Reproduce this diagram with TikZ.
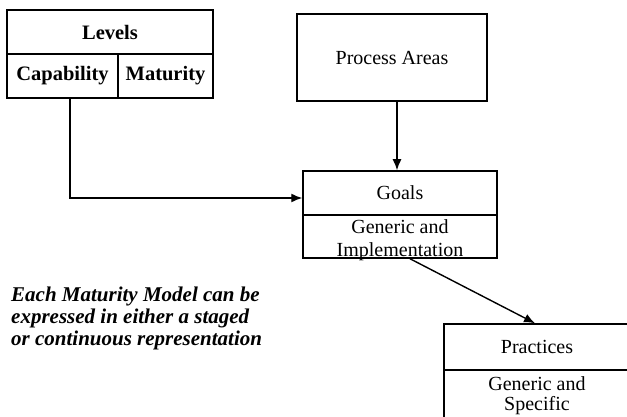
\documentclass[tikz,border=0pt]{standalone}
\usepackage{fontspec}
\setmainfont{Liberation Serif}
\usetikzlibrary{arrows.meta}
\tikzset{
  cell/.style={draw, line width=1.5pt, inner sep=0pt, align=center, font=\fontsize{20}{23}\selectfont},
  boldcell/.style={cell, font=\fontsize{20.5}{23}\selectfont\bfseries},
  conn/.style={line width=1.4pt, -{Latex[length=11pt,width=9pt]}}
}
\newcommand{\twolines}[4]{\raisebox{#1}{\smash{\begin{tabular}{@{}c@{}}#2\\[#4]#3\end{tabular}}}}
\begin{document}
\begin{tikzpicture}[x=1pt,y=-1pt]
\useasboundingbox (0,0) rectangle (627,417);
% Levels
\node[boldcell, minimum width=206pt, minimum height=44pt] (lev) at (110,32) {Levels};
\node[boldcell, minimum width=111pt, minimum height=44pt] (cap) at (62.5,76) {Capability};
\node[boldcell, minimum width=95pt, minimum height=44pt] (mat) at (165.5,76) {Maturity};
% Process Areas
\node[cell, minimum width=190pt, minimum height=87pt] (pa) at (392,57.5) {Process Areas};
% Goals
\node[cell, minimum width=194pt, minimum height=44pt] (goals) at (400,193) {Goals};
\node[cell, minimum width=194pt, minimum height=43pt] (gen) at (400,236.5) {\twolines{-18pt}{Generic and}{Implementation}{0pt}};
% Practices
\node[cell, minimum width=186pt, minimum height=46pt] (prac) at (537,347) {Practices};
\node[cell, minimum width=186pt, minimum height=50pt] (spec) at (537,395) {\twolines{-13pt}{Generic and}{Specific}{-3pt}};
% caption
\node[anchor=north west, align=left, inner sep=0pt, font=\fontsize{21}{22}\selectfont\bfseries\itshape] (cap2) at (11,287) {Each Maturity Model can be\\expressed in either a staged\\or continuous representation};
% connectors
\draw[conn] ([xshift=5pt]pa.south) -- ([xshift=-3pt]goals.north);
\coordinate (lvstart) at ([xshift=7.5pt]cap.south);
\draw[conn] (lvstart) |- ([yshift=-5pt]goals.west);
\draw[conn] ([xshift=10pt]gen.south) -- ([xshift=-2pt]prac.north);
\end{tikzpicture}
\end{document}
